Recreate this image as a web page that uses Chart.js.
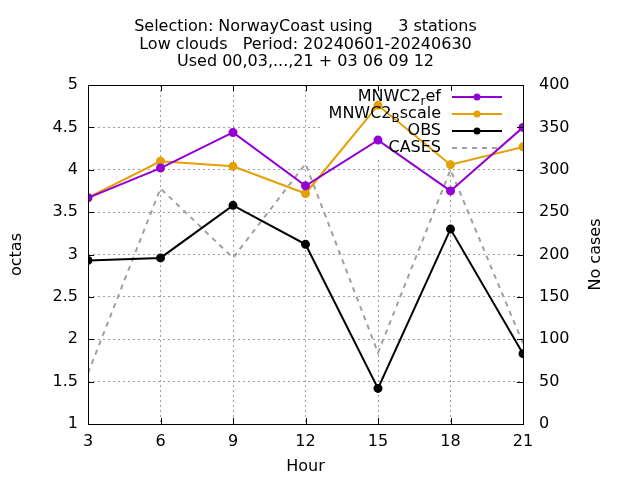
<!DOCTYPE html>
<html>
<head>
<meta charset="utf-8">
<script src="https://cdn.jsdelivr.net/npm/chart.js@4.4.1/dist/chart.umd.min.js"></script>
<style>
  html, body { margin: 0; padding: 0; background: #fff; }
  #wrap { width: 640px; height: 480px; }
</style>
</head>
<body>
<div id="wrap"><canvas id="c" width="640" height="480"></canvas></div>
<script>
Chart.defaults.font.family = "'DejaVu Sans', sans-serif";
Chart.defaults.font.size   = 16;
Chart.defaults.color       = '#000';

// ── Data ──────────────────────────────────────────────────────────────────────
const hours      = [3, 6, 9, 12, 15, 18, 21];
const mnwcRef    = [3.67, 4.02, 4.44, 3.81, 4.35, 3.75, 4.50];
const mnwcBscale = [3.67, 4.10, 4.04, 3.72, 4.76, 4.06, 4.27];
const obs        = [2.93, 2.96, 3.58, 3.12, 1.42, 3.30, 1.83];
const cases      = [60, 278, 196, 307, 84, 300, 95];

const titleLines = [
  'Selection: NorwayCoast using     3 stations',
  'Low clouds   Period: 20240601-20240630',
  'Used 00,03,...,21 + 03 06 09 12'
];

// legend entries: [main, subscript, tail]
const keyLabels = [
  ['MNWC2', 'r', 'ef'],
  ['MNWC2', 'B', 'scale'],
  ['OBS', '', ''],
  ['CASES', '', '']
];

const PURPLE = '#9400d3';
const ORANGE = '#e69f00';
const GRAY   = '#a0a0a0';

const pts = arr => hours.map((h, i) => ({ x: h, y: arr[i] }));

// ── gnuplot-like frame, inner ticks, opaque key, right title ──────────────────
const gnuFrame = {
  id: 'gnuFrame',
  beforeDatasetsDraw(chart) {
    const { ctx, chartArea: a } = chart;
    // opaque key box
    ctx.save();
    ctx.fillStyle = '#fff';
    ctx.fillRect(322, a.top + 1, a.right - 323, 72);
    ctx.restore();
  },
  afterDatasetsDraw(chart) {
    const { ctx, chartArea: a, scales } = chart;
    ctx.save();
    // frame
    ctx.strokeStyle = '#000';
    ctx.lineWidth = 1;
    ctx.strokeRect(a.left + 0.5, a.top + 0.5, a.right - a.left, a.bottom - a.top);
    // inner ticks
    const tl = 6;
    ctx.beginPath();
    scales.x.ticks.forEach(t => {
      const px = Math.round(scales.x.getPixelForValue(t.value)) + 0.5;
      ctx.moveTo(px, a.bottom); ctx.lineTo(px, a.bottom - tl);
      ctx.moveTo(px, a.top);    ctx.lineTo(px, a.top + tl);
    });
    scales.y.ticks.forEach(t => {
      const py = Math.round(scales.y.getPixelForValue(t.value)) + 0.5;
      ctx.moveTo(a.left, py); ctx.lineTo(a.left + tl, py);
    });
    scales.y2.ticks.forEach(t => {
      const py = Math.round(scales.y2.getPixelForValue(t.value)) + 0.5;
      ctx.moveTo(a.right, py); ctx.lineTo(a.right - tl, py);
    });
    ctx.stroke();

    // key
    const ds = chart.data.datasets;
    const textRight = 441, x0 = 452, x1 = 502;
    keyLabels.forEach((lab, i) => {
      const y = 97 + i * 17;
      const d = ds[i];
      // sample line
      ctx.strokeStyle = d.borderColor;
      ctx.lineWidth = d.borderWidth;
      ctx.setLineDash(d.borderDash || []);
      ctx.beginPath(); ctx.moveTo(x0, y); ctx.lineTo(x1, y); ctx.stroke();
      ctx.setLineDash([]);
      if (d.pointRadius > 0) {
        ctx.fillStyle = d.borderColor;
        ctx.beginPath(); ctx.arc((x0 + x1) / 2, y, d.pointRadius, 0, Math.PI * 2); ctx.fill();
      }
      // text with subscript
      const big = "16px 'DejaVu Sans'", small = "12px 'DejaVu Sans'";
      ctx.fillStyle = '#000';
      ctx.textBaseline = 'middle';
      ctx.textAlign = 'left';
      ctx.font = big;   const w1 = ctx.measureText(lab[0]).width, w3 = ctx.measureText(lab[2]).width;
      ctx.font = small; const w2 = ctx.measureText(lab[1]).width;
      let x = textRight - (w1 + w2 + w3);
      ctx.font = big;   ctx.fillText(lab[0], x, y); x += w1;
      ctx.font = small; ctx.fillText(lab[1], x, y + 5); x += w2;
      ctx.font = big;   ctx.fillText(lab[2], x, y);
    });

    // right axis title, reading bottom-to-top like gnuplot
    ctx.translate(596, (a.top + a.bottom) / 2);
    ctx.rotate(-Math.PI / 2);
    ctx.font = "16px 'DejaVu Sans'";
    ctx.textAlign = 'center';
    ctx.textBaseline = 'middle';
    ctx.fillStyle = '#000';
    ctx.fillText('No cases', 0, 0);
    ctx.restore();
  }
};

// ── Chart ─────────────────────────────────────────────────────────────────────
new Chart(document.getElementById('c'), {
  type: 'line',
  data: {
    datasets: [
      { label: 'MNWC2_ref',    data: pts(mnwcRef),    borderColor: PURPLE, backgroundColor: PURPLE,
        borderWidth: 2, pointRadius: 3.5, pointHoverRadius: 3.5, yAxisID: 'y' },
      { label: 'MNWC2_Bscale', data: pts(mnwcBscale), borderColor: ORANGE, backgroundColor: ORANGE,
        borderWidth: 2, pointRadius: 3.5, pointHoverRadius: 3.5, yAxisID: 'y' },
      { label: 'OBS',          data: pts(obs),        borderColor: '#000', backgroundColor: '#000',
        borderWidth: 2, pointRadius: 3.5, pointHoverRadius: 3.5, yAxisID: 'y' },
      { label: 'CASES',        data: pts(cases),      borderColor: GRAY,   backgroundColor: GRAY,
        borderWidth: 2, borderDash: [5, 5], pointRadius: 0, yAxisID: 'y2' }
    ]
  },
  options: {
    responsive: false,
    animation: false,
    layout: { padding: 0 },
    plugins: {
      legend: { display: false },
      tooltip: { enabled: false },
      title: {
        display: true,
        fullSize: false,
        text: titleLines,
        font: { size: 16, weight: 'normal', lineHeight: 1.1 },
        padding: { top: 18, bottom: 14.2 }
      }
    },
    scales: {
      x: {
        type: 'linear', min: 3, max: 21,
        afterFit: s => { s.height = 56; },
        ticks: { stepSize: 3, padding: 8 },
        grid: { color: GRAY, drawTicks: false },
        border: { display: false, dash: [2, 3] },
        title: { display: true, text: 'Hour', padding: { top: 0, bottom: 4 }, font: { size: 16, lineHeight: 1.2 } }
      },
      y: {
        position: 'left', min: 1, max: 5,
        afterFit: s => { s.width = 88; },
        ticks: { stepSize: 0.5, padding: 10, callback: v => String(v) },
        grid: { color: GRAY, drawTicks: false },
        border: { display: false, dash: [2, 3] },
        title: { display: true, text: 'octas', padding: { top: 7.4, bottom: 0 }, font: { size: 16, lineHeight: 1.2 } }
      },
      y2: {
        position: 'right', min: 0, max: 400,
        afterFit: s => { s.width = 117; },
        ticks: { stepSize: 50, padding: 16 },
        grid: { display: false, drawTicks: false },
        border: { display: false }
      }
    }
  },
  plugins: [gnuFrame]
});
</script>
</body>
</html>
